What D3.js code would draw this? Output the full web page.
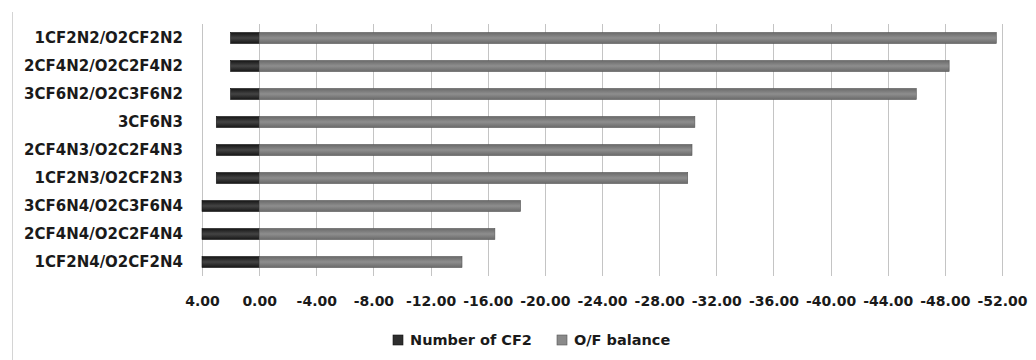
<!DOCTYPE html>
<html>
<head>
<meta charset="utf-8">
<script src="https://cdn.jsdelivr.net/npm/d3@7"></script>
<style>
  body { margin: 0; background: #fff; }
  text { font-family: "DejaVu Sans", sans-serif; font-weight: bold; fill: #1a1a1a; }
</style>
</head>
<body>
<svg width="1036" height="360"></svg>
<script>
const svg = d3.select('svg');

// Data
const categories = [
  '1CF2N2/O2CF2N2', '2CF4N2/O2C2F4N2', '3CF6N2/O2C3F6N2',
  '3CF6N3', '2CF4N3/O2C2F4N3', '1CF2N3/O2CF2N3',
  '3CF6N4/O2C3F6N4', '2CF4N4/O2C2F4N4', '1CF2N4/O2CF2N4'
];
const cf2Count  = [2, 2, 2, 3, 3, 3, 4, 4, 4];
const ofBalance = [-51.6, -48.3, -46.0, -30.5, -30.3, -30.0, -18.3, -16.5, -14.2];
const seriesNames = ['Number of CF2', 'O/F balance'];
const xTicks = d3.range(4, -52.1, -4);

// Layout
const plot = {left: 202, right: 1002, top: 24, bottom: 276};

const xScale = d3.scaleLinear()
  .domain([4, -52])
  .range([plot.left, plot.right]);

const yScale = d3.scaleBand()
  .domain(categories)
  .range([plot.top, plot.bottom])
  .paddingInner(0.607)
  .paddingOuter(0.3035);

// Gradients for the shaded bars
const defs = svg.append('defs');
function shade(id, edge, mid) {
  const g = defs.append('linearGradient')
    .attr('id', id).attr('x1', 0).attr('y1', 0).attr('x2', 0).attr('y2', 1);
  g.append('stop').attr('offset', '0%').attr('stop-color', edge);
  g.append('stop').attr('offset', '50%').attr('stop-color', mid);
  g.append('stop').attr('offset', '100%').attr('stop-color', edge);
}
shade('gDark', '#161616', '#444444');
shade('gGray', '#6a6a6a', '#8e8e8e');

// outer chart border (left edge only visible)
svg.append('line')
  .attr('x1', 12.5).attr('x2', 12.5).attr('y1', 12).attr('y2', 360)
  .attr('stroke', '#d4d4d4');

// Gridlines
svg.append('g')
  .selectAll('line').data(xTicks)
  .enter().append('line')
    .attr('x1', d => Math.round(xScale(d)) + 0.5)
    .attr('x2', d => Math.round(xScale(d)) + 0.5)
    .attr('y1', plot.top)
    .attr('y2', plot.bottom)
    .attr('stroke', '#c4c4c4');

// x axis labels
const xAxis = d3.axisBottom(xScale)
  .tickValues(xTicks)
  .tickSize(0)
  .tickPadding(20)
  .tickFormat(d => d.toFixed(2));

const xAxisG = svg.append('g')
  .attr('transform', `translate(0,${plot.bottom})`)
  .call(xAxis);
xAxisG.select('.domain').remove();
xAxisG.selectAll('text')
  .attr('font-size', 14)
  .attr('font-family', '"DejaVu Sans", sans-serif')
  .attr('fill', '#1a1a1a');

// Category labels
svg.append('g')
  .selectAll('text').data(categories)
  .enter().append('text')
    .attr('x', 183)
    .attr('y', d => yScale(d) + yScale.bandwidth() / 2)
    .attr('dy', '0.36em')
    .attr('text-anchor', 'end')
    .attr('font-size', 15)
    .text(d => d);

// Bars
const bars = svg.append('g');
bars.selectAll('rect.cf2').data(categories)
  .enter().append('rect')
    .attr('class', 'cf2')
    .attr('x', (d, i) => xScale(cf2Count[i]))
    .attr('y', d => yScale(d))
    .attr('width', (d, i) => xScale(0) - xScale(cf2Count[i]))
    .attr('height', yScale.bandwidth())
    .attr('fill', 'url(#gDark)')
    .attr('stroke', '#111')
    .attr('stroke-width', 0.6);

bars.selectAll('rect.of').data(categories)
  .enter().append('rect')
    .attr('class', 'of')
    .attr('x', xScale(0))
    .attr('y', d => yScale(d))
    .attr('width', (d, i) => xScale(ofBalance[i]) - xScale(0))
    .attr('height', yScale.bandwidth())
    .attr('fill', 'url(#gGray)')
    .attr('stroke', '#555')
    .attr('stroke-width', 0.6);

// Legend
const legendItems = [
  {name: seriesNames[0], x: 393, fill: '#2e2e2e', stroke: '#111'},
  {name: seriesNames[1], x: 557, fill: '#8a8a8a', stroke: '#555'}
];
const legend = svg.append('g');
const li = legend.selectAll('g').data(legendItems)
  .enter().append('g')
    .attr('transform', d => `translate(${d.x},335)`);
li.append('rect')
  .attr('width', 10).attr('height', 10)
  .attr('fill', d => d.fill)
  .attr('stroke', d => d.stroke)
  .attr('stroke-width', 0.6);
li.append('text')
  .attr('x', 17).attr('y', 5)
  .attr('dy', '0.36em')
  .attr('font-size', 14.5)
  .text(d => d.name);
</script>
</body>
</html>
